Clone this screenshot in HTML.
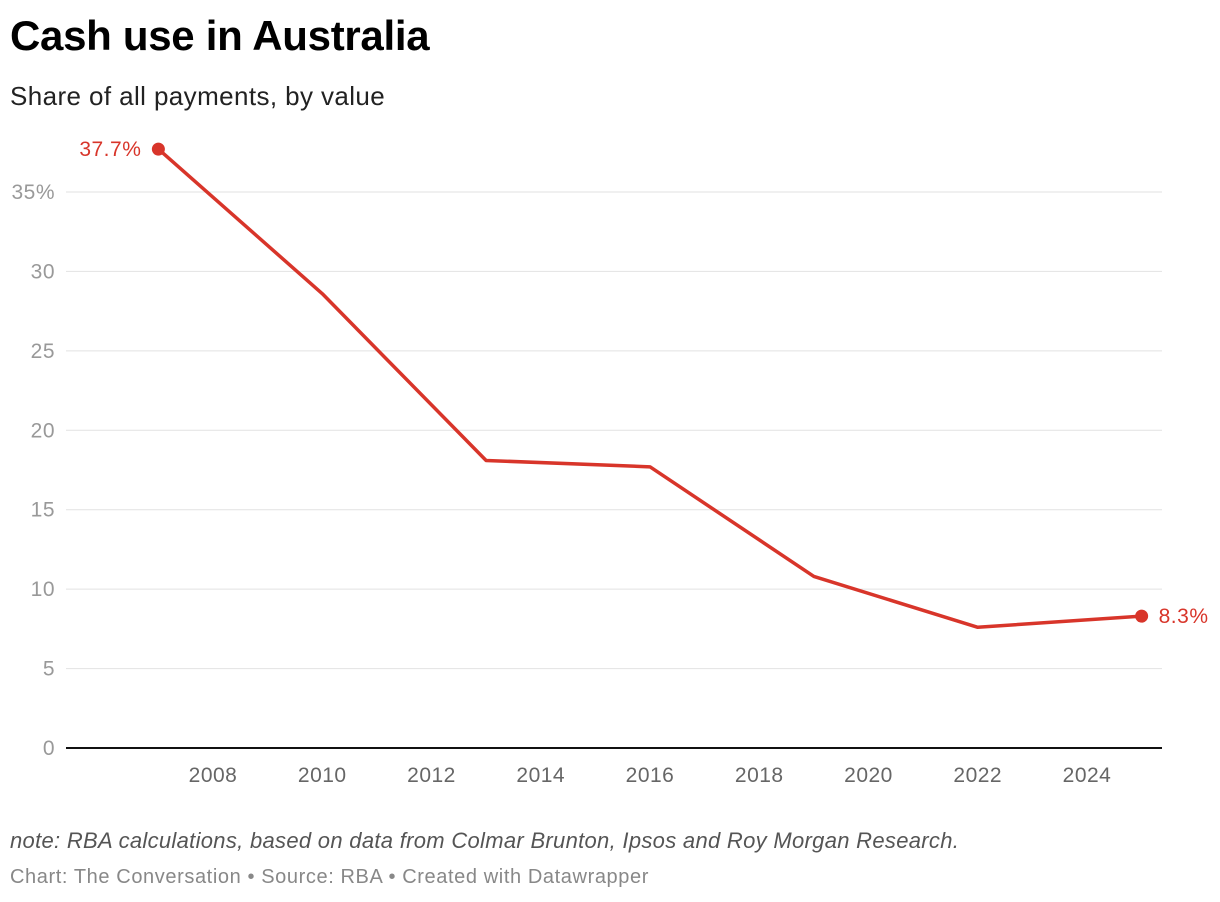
<!DOCTYPE html>
<html><head><meta charset="utf-8"><style>
body{margin:0;background:#fff;font-family:"Liberation Sans",sans-serif;}
#wrap{position:relative;width:1220px;height:902px;overflow:hidden;}
.t{position:absolute;left:10px;white-space:nowrap;}
</style></head><body>
<div id="wrap">
<div class="t" style="top:12px;font-size:42px;font-weight:bold;color:#000;letter-spacing:-0.3px;">Cash use in Australia</div>
<div class="t" style="top:81px;font-size:26px;color:#222;letter-spacing:0.4px;">Share of all payments, by value</div>
<svg id="chart" width="1220" height="902" style="position:absolute;left:0;top:0"></svg>
<div class="t" style="top:828px;font-size:22px;font-style:italic;color:#555;letter-spacing:0.3px;">note: RBA calculations, based on data from Colmar Brunton, Ipsos and Roy Morgan Research.</div>
<div class="t" style="top:866px;font-size:20px;color:#888;letter-spacing:0.6px;">Chart: The Conversation • Source: RBA • Created with Datawrapper</div>
</div>
<script>
const years=[2007,2010,2013,2016,2019,2022,2025];
const values=[37.7,28.6,18.1,17.7,10.8,7.6,8.3];
const yTicks=[0,5,10,15,20,25,30,35];
const yTickLabels=["0","5","10","15","20","25","30","35%"];
const xTicks=[2008,2010,2012,2014,2016,2018,2020,2022,2024];
const svg=document.getElementById('chart');
const NS='http://www.w3.org/2000/svg';
function x(v){return 213+(v-2008)*54.625;}
function y(v){return 748-v*15.886;}
function mk(t,a){const e=document.createElementNS(NS,t);for(const k in a)e.setAttribute(k,a[k]);svg.appendChild(e);return e;}
yTicks.forEach((v,i)=>{
  if(v>0){const g=mk('line',{x1:66,x2:1162,y1:y(v),y2:y(v),stroke:'#e2e2e2','stroke-width':1});
  
  }
  const t=mk('text',{x:55,y:y(v)+7,'text-anchor':'end','font-size':21,'letter-spacing':0.5,fill:'#999','font-family':'Liberation Sans, sans-serif'});
  t.textContent=yTickLabels[i];
  
  
});
const ax=mk('line',{x1:66,x2:1162,y1:y(0),y2:y(0),stroke:'#111','stroke-width':2});


xTicks.forEach(v=>{
  const t=mk('text',{x:x(v),y:782,'text-anchor':'middle','font-size':21,'letter-spacing':0.5,fill:'#666','font-family':'Liberation Sans, sans-serif'});
  t.textContent=v;
  
  
});
const pts=years.map((yr,i)=>x(yr)+','+y(values[i])).join(' ');
const pl=mk('polyline',{points:pts,fill:'none',stroke:'#d8352a','stroke-width':3.5,'stroke-linejoin':'round'});


[0,years.length-1].forEach(i=>{
  const c=mk('circle',{cx:x(years[i]),cy:y(values[i]),r:6.5,fill:'#d8352a'});
  
  
  const first=i===0;
  const t=mk('text',{x:first?x(years[i])-17:x(years[i])+17,y:y(values[i])+7,'text-anchor':first?'end':'start','font-size':21,'letter-spacing':0.5,fill:'#d8352a','font-family':'Liberation Sans, sans-serif'});
  t.textContent=values[i].toFixed(1)+'%';
  
  
});
</script>
</body></html>
